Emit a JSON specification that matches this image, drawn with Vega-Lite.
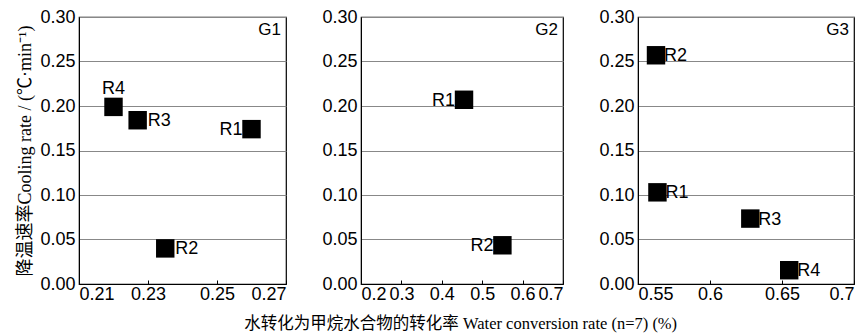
{
  "$schema": "https://vega.github.io/schema/vega-lite/v6.json",
  "padding": {"left": 16, "top": 7, "right": 5, "bottom": 3},
  "background": "white",
  "bounds": "flush",
  "spacing": 75,
  "title": {"text": "水转化为甲烷水合物的转化率 Water conversion rate (n=7) (%)", "orient": "bottom", "anchor": "middle", "dx": 25, "font": "Liberation Serif, Noto Sans CJK SC", "fontSize": 16.5, "fontWeight": "normal", "color": "black", "offset": 12},
  "datasets": {
    "pts": [
      {"g": "G1", "label": "R1", "x": 0.26, "y": 0.174},
      {"g": "G1", "label": "R2", "x": 0.235, "y": 0.040},
      {"g": "G1", "label": "R3", "x": 0.227, "y": 0.184},
      {"g": "G1", "label": "R4", "x": 0.22, "y": 0.199},
      {"g": "G2", "label": "R1", "x": 0.455, "y": 0.207},
      {"g": "G2", "label": "R2", "x": 0.55, "y": 0.0435},
      {"g": "G3", "label": "R1", "x": 0.5635, "y": 0.103},
      {"g": "G3", "label": "R2", "x": 0.5625, "y": 0.257},
      {"g": "G3", "label": "R3", "x": 0.628, "y": 0.0735},
      {"g": "G3", "label": "R4", "x": 0.655, "y": 0.0155}
    ],
    "tags": [{"t": "G1"}, {"t": "G2"}, {"t": "G3"}]
  },
  "config": {
    "view": {"stroke": "black", "strokeWidth": 1.2},
    "axis": {"labelFont": "Liberation Sans", "labelFontSize": 18, "labelColor": "black", "domainColor": "black", "tickColor": "black", "titleFont": "Liberation Serif, Noto Sans CJK SC", "titleFontSize": 18, "titleFontWeight": "normal", "titleColor": "black"},
    "text": {"font": "Liberation Sans", "fontSize": 18, "color": "black"}
  },
  "hconcat": [
    {
      "width": 207, "height": 267,
      "layer": [
        {"data": {"name": "pts"}, "transform": [{"filter": "datum.g === 'G1'"}], "mark": {"type": "point", "shape": "square", "filled": true, "color": "black", "opacity": 1, "size": 340},
         "encoding": {
          "x": {"field": "x", "type": "quantitative", "scale": {"domain": [0.21, 0.27], "nice": false, "zero": false}, "axis": {"values": [0.21, 0.23, 0.25, 0.27], "format": ".2f", "grid": false, "tickSize": -4, "labelPadding": 5, "title": null}},
          "y": {"field": "y", "type": "quantitative", "scale": {"domain": [0, 0.3], "nice": false, "zero": false}, "axis": {"values": [0, 0.05, 0.1, 0.15, 0.2, 0.25, 0.3], "format": ".2f", "grid": true, "gridColor": "#888", "gridOpacity": 1, "ticks": false, "labelPadding": 4, "title": "降温速率Cooling  rate / (℃·min⁻¹)", "titlePadding": 5}}
         }},
        {"data": {"name": "pts"}, "transform": [{"filter": "datum.g === 'G1' && datum.label === 'R4'"}], "mark": {"type": "text", "align": "center", "baseline": "bottom", "dy": -9}, "encoding": {"x": {"field": "x", "type": "quantitative"}, "y": {"field": "y", "type": "quantitative"}, "text": {"field": "label"}}},
        {"data": {"name": "pts"}, "transform": [{"filter": "datum.g === 'G1' && (datum.label === 'R2' || datum.label === 'R3')"}], "mark": {"type": "text", "align": "left", "baseline": "middle", "dx": 10, "dy": 1}, "encoding": {"x": {"field": "x", "type": "quantitative"}, "y": {"field": "y", "type": "quantitative"}, "text": {"field": "label"}}},
        {"data": {"name": "pts"}, "transform": [{"filter": "datum.g === 'G1' && datum.label === 'R1'"}], "mark": {"type": "text", "align": "right", "baseline": "middle", "dx": -9, "dy": 1}, "encoding": {"x": {"field": "x", "type": "quantitative"}, "y": {"field": "y", "type": "quantitative"}, "text": {"field": "label"}}},
        {"data": {"name": "tags"}, "transform": [{"filter": "datum.t === 'G1'"}], "mark": {"type": "text", "align": "right", "baseline": "top", "dx": -5, "dy": 5, "fontSize": 17}, "encoding": {"text": {"field": "t"}, "x": {"datum": 0.27}, "y": {"datum": 0.3}}}
      ]
    },
    {
      "width": 202, "height": 267,
      "layer": [
        {"data": {"name": "pts"}, "transform": [{"filter": "datum.g === 'G2'"}], "mark": {"type": "point", "shape": "square", "filled": true, "color": "black", "opacity": 1, "size": 340},
         "encoding": {
          "x": {"field": "x", "type": "quantitative", "scale": {"domain": [0.2, 0.7], "nice": false, "zero": false}, "axis": {"values": [0.2, 0.3, 0.4, 0.5, 0.6, 0.7], "format": ".1f", "grid": false, "tickSize": -4, "labelPadding": 5, "title": null}},
          "y": {"field": "y", "type": "quantitative", "scale": {"domain": [0, 0.3], "nice": false, "zero": false}, "axis": {"values": [0, 0.05, 0.1, 0.15, 0.2, 0.25, 0.3], "format": ".2f", "grid": true, "gridColor": "#888", "gridOpacity": 1, "ticks": false, "labelPadding": 4, "title": null}}
         }},
        {"data": {"name": "pts"}, "transform": [{"filter": "datum.g === 'G2'"}], "mark": {"type": "text", "align": "right", "baseline": "middle", "dx": -9, "dy": 1}, "encoding": {"x": {"field": "x", "type": "quantitative"}, "y": {"field": "y", "type": "quantitative"}, "text": {"field": "label"}}},
        {"data": {"name": "tags"}, "transform": [{"filter": "datum.t === 'G2'"}], "mark": {"type": "text", "align": "right", "baseline": "top", "dx": -5, "dy": 5, "fontSize": 17}, "encoding": {"text": {"field": "t"}, "x": {"datum": 0.7}, "y": {"datum": 0.3}}}
      ]
    },
    {
      "width": 216, "height": 267,
      "layer": [
        {"data": {"name": "pts"}, "transform": [{"filter": "datum.g === 'G3'"}], "mark": {"type": "point", "shape": "square", "filled": true, "color": "black", "opacity": 1, "size": 340},
         "encoding": {
          "x": {"field": "x", "type": "quantitative", "scale": {"domain": [0.55, 0.7], "nice": false, "zero": false}, "axis": {"values": [0.55, 0.6, 0.65, 0.7], "labelExpr": "datum.value == 0.6 ? '0.6' : datum.value == 0.7 ? '0.7' : format(datum.value, '.2f')", "grid": false, "tickSize": -4, "labelPadding": 5, "title": null}},
          "y": {"field": "y", "type": "quantitative", "scale": {"domain": [0, 0.3], "nice": false, "zero": false}, "axis": {"values": [0, 0.05, 0.1, 0.15, 0.2, 0.25, 0.3], "format": ".2f", "grid": true, "gridColor": "#888", "gridOpacity": 1, "ticks": false, "labelPadding": 4, "title": null}}
         }},
        {"data": {"name": "pts"}, "transform": [{"filter": "datum.g === 'G3'"}], "mark": {"type": "text", "align": "left", "baseline": "middle", "dx": 8, "dy": 1}, "encoding": {"x": {"field": "x", "type": "quantitative"}, "y": {"field": "y", "type": "quantitative"}, "text": {"field": "label"}}},
        {"data": {"name": "tags"}, "transform": [{"filter": "datum.t === 'G3'"}], "mark": {"type": "text", "align": "right", "baseline": "top", "dx": -5, "dy": 5, "fontSize": 17}, "encoding": {"text": {"field": "t"}, "x": {"datum": 0.7}, "y": {"datum": 0.3}}}
      ]
    }
  ]
}
